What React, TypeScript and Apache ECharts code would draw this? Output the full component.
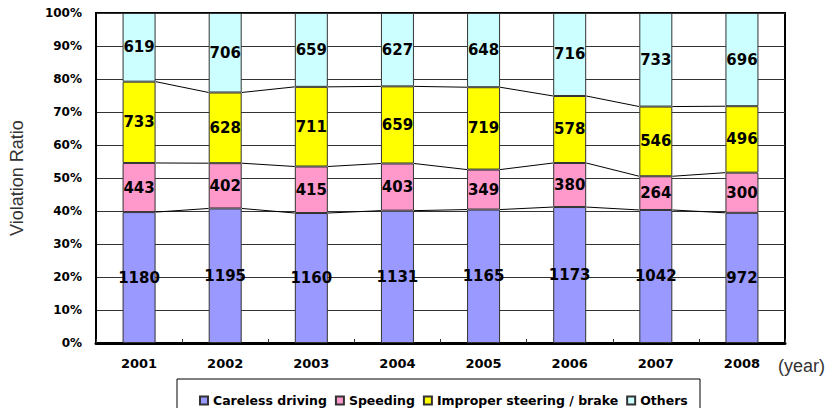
import React, { useEffect, useRef } from "react";
import * as echarts from "echarts";

const years = ["2001", "2002", "2003", "2004", "2005", "2006", "2007", "2008"];
const seriesNames = ["Careless driving", "Speeding", "Improper steering / brake", "Others"];
const careless = [1180, 1195, 1160, 1131, 1165, 1173, 1042, 972];
const speeding = [443, 402, 415, 403, 349, 380, 264, 300];
const improper = [733, 628, 711, 659, 719, 578, 546, 496];
const others = [619, 706, 659, 627, 648, 716, 733, 696];
const colors = ["#9999FF", "#FF99CC", "#FFFF00", "#CCFFFF"];
const yTicks = [0, 10, 20, 30, 40, 50, 60, 70, 80, 90, 100];

const BAR_W = 33;

export default function App() {
  const ref = useRef<HTMLDivElement>(null);
  useEffect(() => {
    if (!ref.current) return;
    const chart = echarts.init(ref.current, null, { renderer: "svg" });
    const raw = [careless, speeding, improper, others];
    const totals = years.map((_, i) => raw.reduce((s, a) => s + a[i], 0));
    const pct = raw.map((arr) => arr.map((v, i) => (v / totals[i]) * 100));
    const cum = [0, 1, 2].map((k) =>
      years.map((_, i) => {
        let s = 0;
        for (let j = 0; j <= k; j++) s += pct[j][i];
        return s;
      })
    );
    const font = "DejaVu Sans";
    const barSeries = seriesNames.map((name, k) => ({
      name,
      type: "bar",
      stack: "total",
      barWidth: BAR_W,
      data: pct[k],
      itemStyle: { color: colors[k], borderColor: "#333", borderWidth: 1 },
      label: {
        show: true,
        position: "inside",
        formatter: (p: any) => String(raw[k][p.dataIndex]),
        fontFamily: font,
        fontWeight: "bold",
        fontSize: 15,
        color: "#000",
      },
      z: 3,
    }));
    const connector = {
      type: "custom",
      silent: true,
      z: 2,
      data: years.slice(0, years.length - 1).map((_, i) => [i, 0]),
      encode: { x: 0, y: 1 },
      renderItem: (params: any, api: any) => {
        const i = api.value(0);
        const children: any[] = [];
        for (let k = 0; k < 3; k++) {
          const p0 = api.coord([i, cum[k][i]]);
          const p1 = api.coord([i + 1, cum[k][i + 1]]);
          children.push({
            type: "line",
            shape: { x1: p0[0] + BAR_W / 2, y1: p0[1], x2: p1[0] - BAR_W / 2, y2: p1[1] },
            style: { stroke: "#000", lineWidth: 1 },
          });
        }
        return { type: "group", children };
      },
    };
    chart.setOption({
      animation: false,
      grid: {
        left: 96,
        right: 45,
        top: 13,
        bottom: 65,
        show: true,
        borderColor: "#000",
        borderWidth: 2,
      },
      legend: {
        data: seriesNames,
        left: 194,
        top: 389,
        itemWidth: 8,
        itemHeight: 8,
        itemGap: 8,
        icon: "rect",
        textStyle: { fontFamily: font, fontWeight: "bold", fontSize: 12.5, color: "#000" },
      },
      xAxis: {
        type: "category",
        data: years,
        axisLine: { lineStyle: { color: "#000", width: 3 } },
        axisTick: { show: true, inside: true, length: 4, lineStyle: { color: "#333" } },
        axisLabel: { fontFamily: font, fontWeight: "bold", fontSize: 13, color: "#000", margin: 14 },
      },
      yAxis: {
        type: "value",
        min: yTicks[0],
        max: yTicks[yTicks.length - 1],
        interval: 10,
        axisLine: { show: true, lineStyle: { color: "#000", width: 2 } },
        axisTick: { show: false },
        splitLine: { lineStyle: { color: "#333", width: 1 } },
        axisLabel: {
          formatter: "{value}%",
          fontFamily: font,
          fontWeight: "bold",
          fontSize: 12,
          color: "#000",
          margin: 14,
        },
        name: "Violation Ratio",
        nameLocation: "middle",
        nameGap: 70,
        nameTextStyle: { fontFamily: "Liberation Sans", fontSize: 18, color: "#333" },
      },
      graphic: [
        {
          type: "rect",
          shape: { x: 177, y: 379, width: 523, height: 40 },
          style: { fill: "none", stroke: "#000", lineWidth: 1 },
        },
        {
          type: "text",
          x: 778,
          y: 357,
          style: { text: "(year)", fontFamily: "Liberation Sans", fontSize: 18, fill: "#333" },
        },
      ],
      series: [...barSeries, connector],
    });
    return () => chart.dispose();
  }, []);
  return (
    <div
      ref={ref}
      style={{ position: "fixed", left: 0, top: 0, width: 830, height: 408, background: "#fff" }}
    />
  );
}
